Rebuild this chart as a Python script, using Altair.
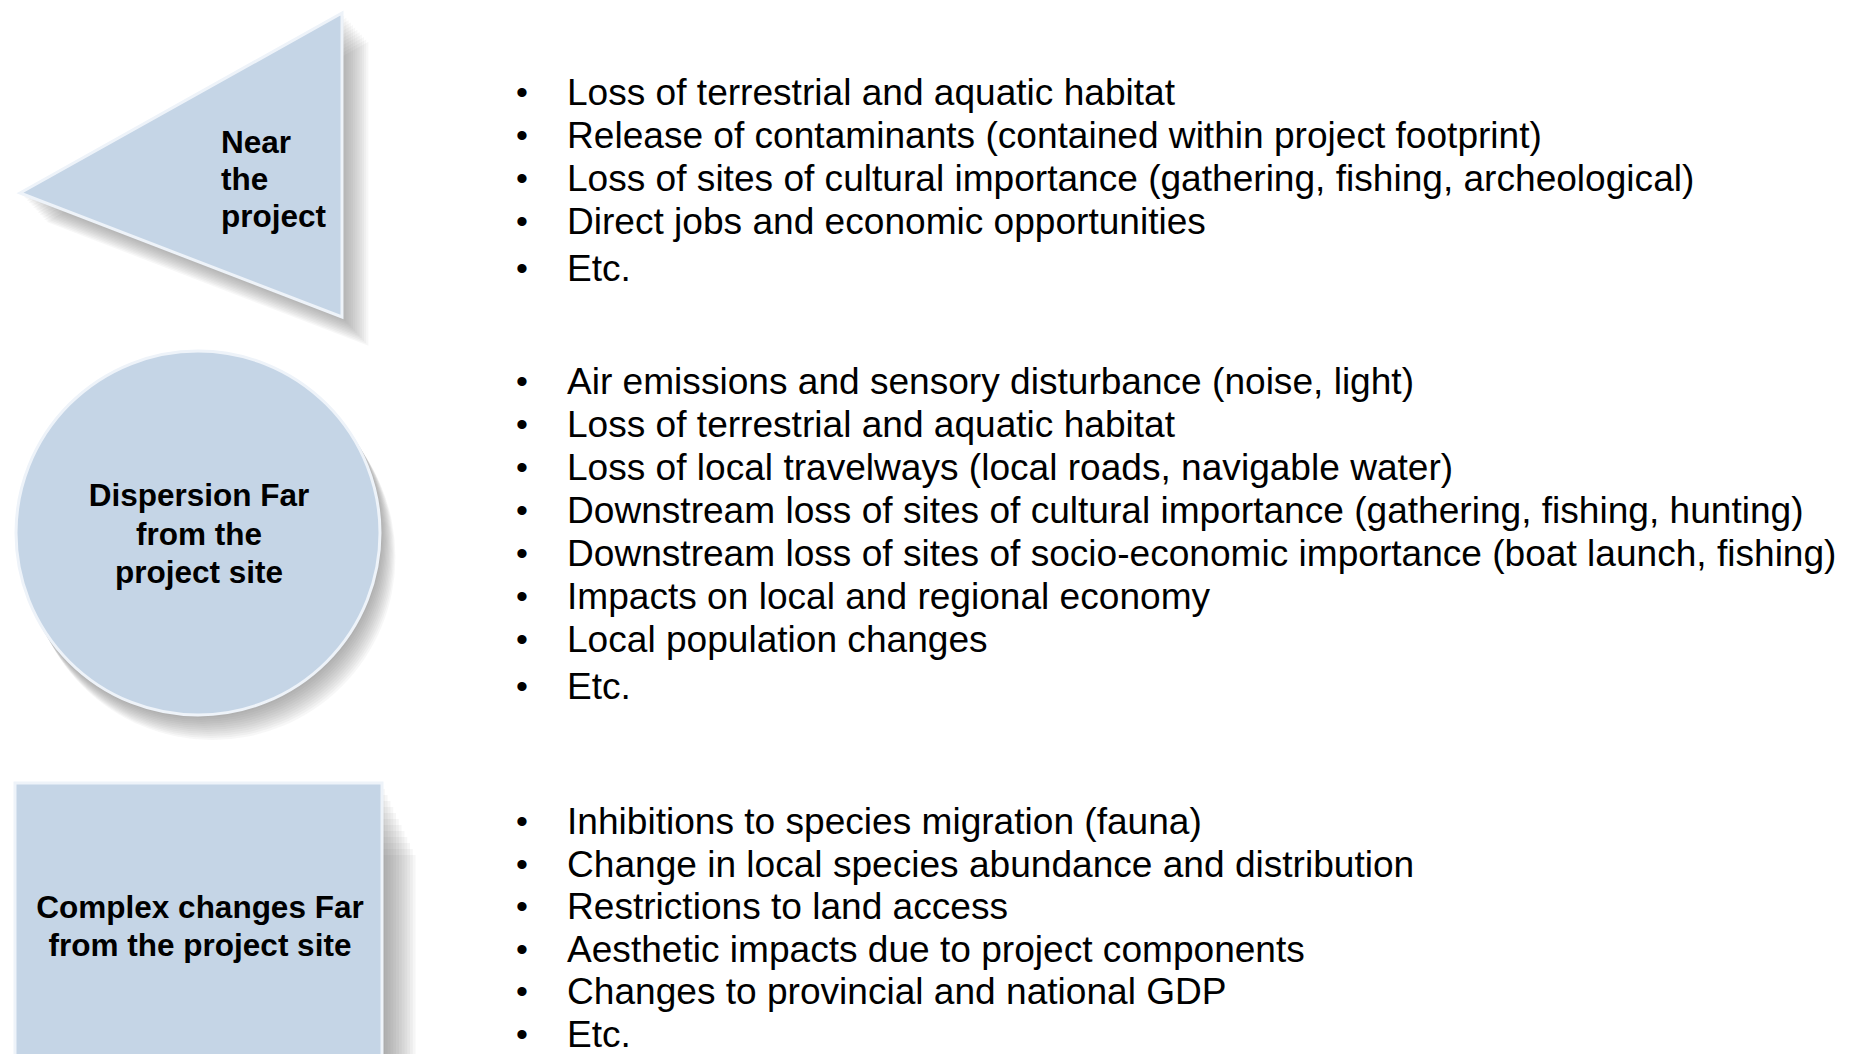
import math
import altair as alt
import pandas as pd

# ---------------- content ----------------
near_label = ["Near", "the", "project"]
dispersion_label = ["Dispersion Far", "from the", "project site"]
complex_label = ["Complex changes Far", "from the project site"]

near_items = [
    "Loss of terrestrial and aquatic habitat",
    "Release of contaminants (contained within project footprint)",
    "Loss of sites of cultural importance (gathering, fishing, archeological)",
    "Direct jobs and economic opportunities",
    "Etc.",
]
dispersion_items = [
    "Air emissions and sensory disturbance (noise, light)",
    "Loss of terrestrial and aquatic habitat",
    "Loss of local travelways (local roads, navigable water)",
    "Downstream loss of sites of cultural importance (gathering, fishing, hunting)",
    "Downstream loss of sites of socio-economic importance (boat launch, fishing)",
    "Impacts on local and regional economy",
    "Local population changes",
    "Etc.",
]
complex_items = [
    "Inhibitions to species migration (fauna)",
    "Change in local species abundance and distribution",
    "Restrictions to land access",
    "Aesthetic impacts due to project components",
    "Changes to provincial and national GDP",
    "Etc.",
]

# ---------------- layout ----------------
W, H = 1837, 1046
OX, OY = 8, 8
FILL = "#C5D5E6"
SHADOW = "#6a6a6a"

group_items = [near_items, dispersion_items, complex_items]
group_start_y = [94, 383, 823]
group_gap = [43, 43, 42.5]
group_etc_extra = [4, 4, 0]
BULLET_X = 522
TEXT_X = 567

rows = []
for items, y0, gap, extra in zip(group_items, group_start_y, group_gap, group_etc_extra):
    y = y0
    for i, t in enumerate(items):
        if i > 0:
            y += gap + (extra if t == "Etc." else 0)
        rows.append({"text": t, "y": y, "bx": BULLET_X, "tx": TEXT_X, "bullet": "\u2022"})
bullets_df = pd.DataFrame(rows)

label_rows = []
for i, t in enumerate(near_label):
    label_rows.append({"text": t, "x": 221, "y": 144 + i * 37, "align": "left"})
for i, t in enumerate(dispersion_label):
    label_rows.append({"text": t, "x": 199, "y": 497 + i * 38.5, "align": "center"})
for i, t in enumerate(complex_label):
    label_rows.append({"text": t, "x": 200, "y": 909 + i * 38, "align": "center"})
labels_df = pd.DataFrame(label_rows)

# shapes
tri = {"x": [20, 342], "y": [193, 13], "y2": [193, 317]}
circ = {"cx": 198, "cy": 533, "r": 183}
rect = {"x": 15, "x2": 382, "y": 783, "y2": 1062}

xs = alt.Scale(domain=[OX, OX + W], nice=False, zero=False)
ys = alt.Scale(domain=[OY, OY + H], nice=False, zero=False, reverse=True)


def X(f):
    return alt.X(f, type="quantitative", scale=xs, axis=None)


def Y(f):
    return alt.Y(f, type="quantitative", scale=ys, axis=None)


layers = []

# soft shadows (several faint offset copies)
shadow_steps = [0.1 * k for k in range(1, 13)]
for s in shadow_steps:
    dx, dy = 22 * s, 24 * s
    tdf = pd.DataFrame({"x": [v + dx for v in tri["x"]],
                        "y": [v + dy for v in tri["y"]],
                        "y2": [v + dy for v in tri["y2"]]})
    layers.append(alt.Chart(tdf).mark_area(orient="vertical", color=SHADOW, opacity=0.055)
                  .encode(x=X("x"), y=Y("y"), y2="y2"))
    cdf = pd.DataFrame({"x": [circ["cx"] + 12 * s], "y": [circ["cy"] + 20 * s]})
    layers.append(alt.Chart(cdf).mark_circle(color=SHADOW, opacity=0.05,
                                             size=(2 * circ["r"]) ** 2)
                  .encode(x=X("x"), y=Y("y")))
    rdf = pd.DataFrame({"x": [rect["x"] + 28 * s], "x2": [rect["x2"] + 28 * s],
                        "y": [rect["y"] + 60 * s], "y2": [rect["y2"] + 20 * s]})
    layers.append(alt.Chart(rdf).mark_rect(color=SHADOW, opacity=0.06)
                  .encode(x=X("x"), x2="x2", y=Y("y"), y2="y2"))

# main shapes
layers.append(alt.Chart(pd.DataFrame(tri)).mark_area(
    orient="vertical", color=FILL, stroke="#eef3f9", strokeWidth=3)
    .encode(x=X("x"), y=Y("y"), y2="y2"))
layers.append(alt.Chart(pd.DataFrame({"x": [circ["cx"]], "y": [circ["cy"]]})).mark_circle(
    color=FILL, opacity=1, size=(2 * circ["r"] - 2) ** 2, stroke="#eef3f9", strokeWidth=3)
    .encode(x=X("x"), y=Y("y")))
layers.append(alt.Chart(pd.DataFrame({k: [v] for k, v in rect.items()})).mark_rect(
    color=FILL, stroke="#eef3f9", strokeWidth=3)
    .encode(x=X("x"), x2="x2", y=Y("y"), y2="y2"))

# labels inside shapes
for al in ["left", "center"]:
    sub = labels_df[labels_df["align"] == al]
    layers.append(alt.Chart(sub).mark_text(
        font="Liberation Sans", fontWeight="bold", fontSize=31.5, align=al,
        baseline="middle", color="black")
        .encode(x=X("x"), y=Y("y"), text="text:N"))

# bullet lists
layers.append(alt.Chart(bullets_df).mark_text(
    font="Liberation Sans", fontSize=34, align="center", baseline="middle", color="black")
    .encode(x=X("bx"), y=Y("y"), text="bullet:N"))
layers.append(alt.Chart(bullets_df).mark_text(
    font="Liberation Sans", fontSize=37.1, align="left", baseline="middle", color="black")
    .encode(x=X("tx"), y=Y("y"), text="text:N"))

chart = alt.layer(*layers).properties(
    width=W, height=H, padding=0, background="white",
    autosize=alt.AutoSizeParams(type="none"),
).configure_view(strokeWidth=0)

chart.save("out.html", embed_options={"renderer": "svg", "actions": False})
